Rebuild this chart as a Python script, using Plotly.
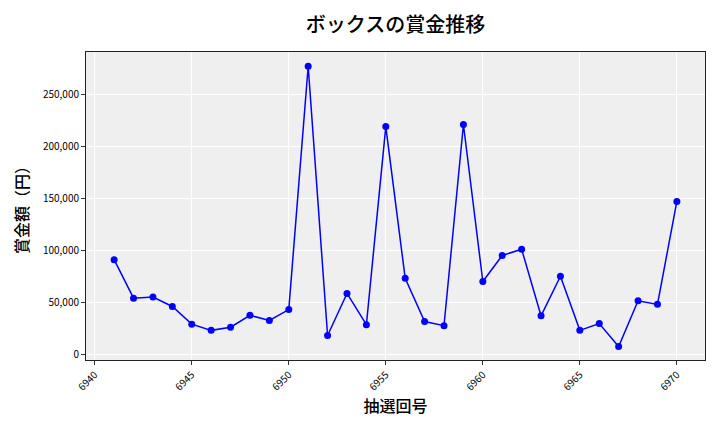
import plotly.graph_objects as go

# 抽選回号と賞金額（円）
draw_numbers = list(range(6941, 6971))
prize_yen = [
    91000, 54000, 55000, 46000, 29000, 23000, 26000, 37500, 32500, 43000,
    277000, 18000, 58500, 28500, 219000, 73000, 31500, 27500, 221000, 70000,
    95000, 101000, 37000, 75000, 23000, 29500, 7500, 51500, 48000, 147000,
]
x_ticks = [6940, 6945, 6950, 6955, 6960, 6965, 6970]
y_ticks = [0, 50000, 100000, 150000, 200000, 250000]

FONT = "Noto Sans CJK JP"

# the page body has an 8px margin, so the figure is drawn 8px smaller
fig = go.Figure()
fig.add_trace(
    go.Scatter(
        x=draw_numbers,
        y=prize_yen,
        mode="lines+markers",
        line=dict(color="#0000FF", width=1.5),
        marker=dict(color="#0000FF", size=7),
        showlegend=False,
        hoverinfo="x+y",
    )
)

fig.update_layout(
    width=712,
    height=424,
    margin=dict(l=78, r=15, t=44, b=72),
    paper_bgcolor="white",
    plot_bgcolor="#EFEFEF",
    font=dict(family=FONT, color="black"),
    title=dict(
        text="ボックスの賞金推移",
        xref="paper",
        x=0.5,
        xanchor="center",
        y=1 - 17 / 424,
        yanchor="middle",
        font=dict(size=20, family=FONT, weight=500),
    ),
    xaxis=dict(
        range=[6939.55, 6971.45],
        tickvals=x_ticks,
        tickangle=-45,
        tickfont=dict(size=10),
        ticks="outside",
        ticklen=4,
        tickcolor="#333",
        showline=True,
        linecolor="#222",
        linewidth=1,
        mirror=True,
        gridcolor="white",
        gridwidth=1,
        zeroline=False,
        title=dict(text="抽選回号", font=dict(size=16, weight=500), standoff=8),
    ),
    yaxis=dict(
        range=[-5500, 290700],
        tickvals=y_ticks,
        tickformat=",d",
        tickfont=dict(size=10),
        ticks="outside",
        ticklen=4,
        tickcolor="#333",
        showline=True,
        linecolor="#222",
        linewidth=1,
        mirror=True,
        gridcolor="white",
        gridwidth=1,
        zeroline=False,
        title=dict(text="賞金額（円）", font=dict(size=16, weight=500), standoff=10),
    ),
)

fig.write_html("out.html")
